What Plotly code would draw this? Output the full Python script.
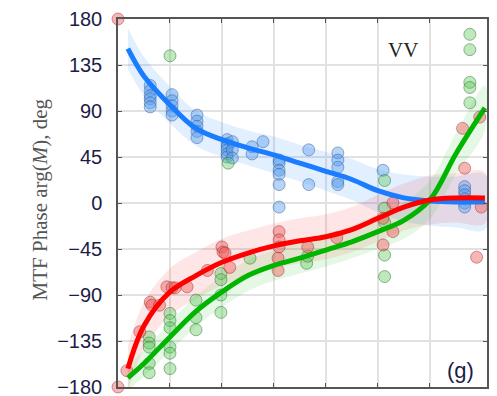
import plotly.graph_objects as go

# ---- fitted curves (x in arbitrary units, y in degrees) ----
curve_x = [0.19, 0.5, 1.0, 1.5, 2.0, 2.5, 3.0, 3.5, 4.0, 4.5, 5.0, 5.5, 6.0, 6.5, 7.06]
blue_y  = [151, 124, 96, 73, 62, 54, 47, 39, 31, 23, 12, 5, 2, 1, 1]
blue_w  = [20, 19, 18, 17, 17, 17, 18, 18, 19, 20, 21, 23, 24, 25, 27]
red_y   = [-162, -120, -87, -71, -58, -49, -42, -37, -33, -26, -15, -4, 3, 5, 5]
red_w   = [22, 23, 23, 23, 23, 22, 22, 22, 22, 22, 23, 23, 24, 24, 25]
green_y = [-171, -157, -131, -106, -87, -71, -61, -54, -46, -38, -28, -17, 3, 48, 93]
green_w = [12, 13, 14, 15, 15, 15, 15, 15, 16, 16, 17, 18, 19, 20, 22]

# ---- measured points ----
blue_px = [0.62]*6 + [1.04]*5 + [1.52]*5 + [2.1]*6 + [2.2]*3 + [2.58]*2 + [2.79] + [3.1]*6 + [3.67]*2 + [4.23]*5 + [5.1] + [6.67]*6
blue_py = [115, 110, 105, 102, 98, 94,
           106, 100, 95, 90, 86,
           86, 80, 75, 70, 64,
           62, 58, 55, 52, 48, 45,
           60, 52, 44,
           55, 48,
           60,
           42, 39, 32, 28, 18, -4,
           52, 18,
           49, 42, 35, 21, 18,
           32,
           16, 12, 8, 4, 0, -4]

green_px = [0.6]*5 + [1.0]*6 + [1.5]*3 + [1.98]*4 + [1.0, 2.12, 2.54, 3.63, 3.65] + [5.13]*5 + [6.77]*5
green_py = [-131, -137, -141, -157, -166,
            -108, -115, -122, -141, -147, -162,
            -95, -112, -124,
            -69, -75, -90, -107,
            144, 39, -54, -59, -52,
            22, -5, -19, -51, -72,
            165, 150, 118, 113, 98]

red_px = [0, 0, 0.17, 0.42, 0.62, 0.65, 0.8, 0.94, 1.04, 1.1, 1.33, 1.72,
          2.0, 2.02, 2.06, 2.15, 3.1, 3.1, 3.1, 3.08, 3.08, 3.65, 4.21,
          5.1, 5.29, 5.29, 5.1, 6.67, 6.99, 6.9, 6.63, 6.96]
red_py = [180, -180, -164, -126, -97, -100, -100, -82, -83, -83, -82, -66,
          -43, -48, -49, -63, -28, -36, -43, -54, -66, -43, -34,
          -15, 0, -28, -41, 34, -4, -53, 73, 84]

y_ticks = [-180, -135, -90, -45, 0, 45, 90, 135, 180]
x_grid = [1, 2, 3, 4, 5, 6]

fig = go.Figure()

def band(x, y, w, color):
    up = [a + b for a, b in zip(y, w)]
    lo = [a - b for a, b in zip(y, w)]
    fig.add_trace(go.Scatter(x=x + x[::-1], y=up + lo[::-1], fill="toself",
                             fillcolor=color, line=dict(width=0), mode="lines",
                             line_shape="spline", hoverinfo="skip", showlegend=False))

band(curve_x, blue_y, blue_w, "rgba(30,130,255,0.13)")
band(curve_x, red_y, red_w, "rgba(255,60,60,0.13)")
band(curve_x, green_y, green_w, "rgba(40,200,40,0.12)")

def pts(x, y, fill, edge):
    fig.add_trace(go.Scatter(x=x, y=y, mode="markers", cliponaxis=False, showlegend=False,
                             marker=dict(size=12, color=fill, line=dict(color=edge, width=1))))

pts(blue_px, blue_py, "rgba(90,160,240,0.45)", "rgba(40,80,140,0.45)")
pts(green_px, green_py, "rgba(90,200,90,0.4)", "rgba(30,100,30,0.45)")
pts(red_px, red_py, "rgba(240,90,90,0.45)", "rgba(140,40,40,0.45)")

def line(x, y, color):
    fig.add_trace(go.Scatter(x=x, y=y, mode="lines", line_shape="spline",
                             line=dict(color=color, width=5, smoothing=1.0), showlegend=False))

line(curve_x, blue_y, "#1a7cff")
line(curve_x, green_y, "#00b400")
line(curve_x, red_y, "#ff0000")

fig.update_layout(
    width=497, height=396,
    margin=dict(l=118, r=10, t=19, b=9),
    paper_bgcolor="white", plot_bgcolor="white",
    xaxis=dict(range=[0, 7.1], tickvals=x_grid, showticklabels=False, showgrid=True,
               gridcolor="#e2e2e2", gridwidth=1.5, zeroline=False, showline=True,
               linecolor="#555", linewidth=1.5, mirror="ticks", ticks="inside",
               ticklen=4, tickcolor="#555"),
    yaxis=dict(range=[-180, 180], tickvals=y_ticks, showgrid=True, gridcolor="#e2e2e2",
               gridwidth=1.5, zeroline=False, showline=True, linecolor="#555", linewidth=1.5,
               mirror="ticks", ticks="inside", ticklen=4, tickcolor="#555",
               ticklabeloverflow="allow", automargin=False, ticklabelstandoff=10,
               tickfont=dict(family="Liberation Sans, Arial", size=20, color="#1c1c48")),
    annotations=[
        dict(text="MTF Phase arg(<i>M</i>), deg", xref="paper", yref="paper",
             x=-0.211, y=0.51, xanchor="center", yanchor="middle", textangle=-90,
             showarrow=False,
             font=dict(family="Liberation Serif, DejaVu Serif", size=21, color="#555")),
        dict(text="VV", xref="paper", yref="paper", x=0.818, y=0.955, showarrow=False,
             font=dict(family="Liberation Serif, DejaVu Serif", size=21, color="#222")),
        dict(text="(g)", xref="paper", yref="paper", x=0.97, y=0.005, showarrow=False,
             font=dict(family="Liberation Sans, Arial", size=22, color="#1c1c48")),
    ],
)

fig.write_html("out.html")
